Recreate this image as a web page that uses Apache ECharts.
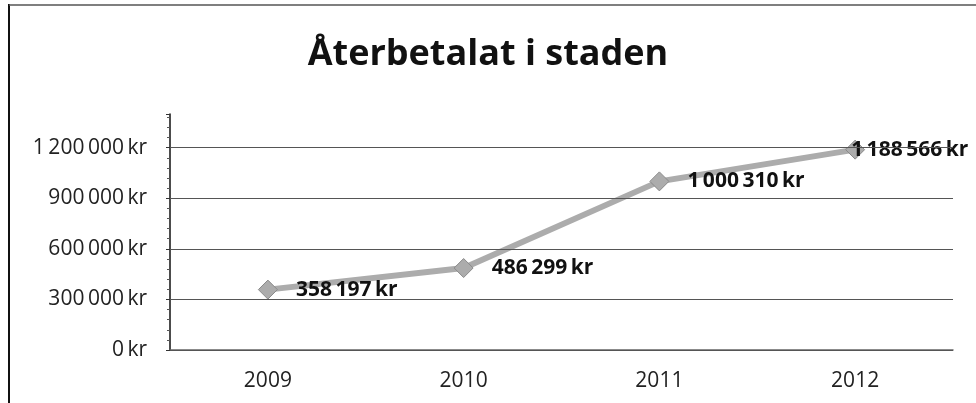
<!DOCTYPE html>
<html>
<head>
<meta charset="utf-8">
<script src="https://cdn.jsdelivr.net/npm/echarts@6/dist/echarts.min.js"></script>
<style>
html,body{margin:0;padding:0;background:#fff;}
#chart{width:976px;height:403px;}
</style>
</head>
<body>
<div id="chart"></div>
<script>
const titleText = 'Återbetalat i staden';
const categories = ['2009', '2010', '2011', '2012'];
const values = [358197, 486299, 1000310, 1188566];
const gridValues = [0, 300000, 600000, 900000, 1200000];

function fmtKr(v) {
  return String(Math.round(v)).replace(/\B(?=(\d{3})+(?!\d))/g, '\u2009') + '\u2009kr';
}

const FONT = 'Open Sans';
const chart = echarts.init(document.getElementById('chart'));
const seriesData = values.map((v, i) => i === values.length - 1
  ? { value: v, label: { offset: [-32, 0] } }
  : v);

chart.setOption({
  animation: false,
  backgroundColor: '#fff',
  title: {
    text: titleText,
    left: 'center',
    top: 32,
    textStyle: { fontFamily: FONT, fontWeight: 'bold', fontSize: 36, color: '#111' }
  },
  graphic: [
    { type: 'line', shape: { x1: 9, y1: 4, x2: 9, y2: 403 }, style: { stroke: '#111', lineWidth: 2 } },
    { type: 'line', shape: { x1: 9, y1: 5, x2: 976, y2: 5 }, style: { stroke: '#555', lineWidth: 1.5 } }
  ],
  grid: { left: 170, right: 23, top: 114, bottom: 53 },
  xAxis: {
    type: 'category',
    data: categories,
    boundaryGap: true,
    axisLine: { show: true, lineStyle: { color: '#666', width: 1.5 } },
    axisTick: { show: false },
    axisLabel: { margin: 21, fontFamily: FONT, fontSize: 21, color: '#222' },
    splitLine: { show: false }
  },
  yAxis: {
    type: 'value',
    min: 0,
    max: 1400000,
    interval: 300000,
    axisLine: { show: true, lineStyle: { color: '#111', width: 1.5 } },
    axisTick: { show: true, length: 4, lineStyle: { color: '#333' } },
    minorTick: { show: true, splitNumber: 5, length: 3, lineStyle: { color: '#555' } },
    axisLabel: {
      showMaxLabel: false,
      margin: 23,
      fontFamily: FONT, fontSize: 21, color: '#222',
      formatter: v => fmtKr(v)
    },
    splitLine: { show: false }
  },
  series: [{
    type: 'line',
    data: seriesData,
    symbol: 'diamond',
    symbolSize: 19,
    lineStyle: { color: '#acacac', width: 6 },
    itemStyle: { color: '#acacac', borderColor: '#8a8a8a', borderWidth: 1 },
    label: {
      show: true,
      position: 'right',
      distance: 18,
      fontFamily: FONT,
      fontWeight: 'bold',
      fontSize: 21,
      color: '#111',
      formatter: p => fmtKr(p.value)
    },
    markLine: {
      silent: true,
      symbol: 'none',
      label: { show: false },
      lineStyle: { color: '#555', width: 1.2, type: 'solid' },
      data: gridValues.map(v => ({ yAxis: v }))
    },
    z: 3
  }]
});
</script>
</body>
</html>
